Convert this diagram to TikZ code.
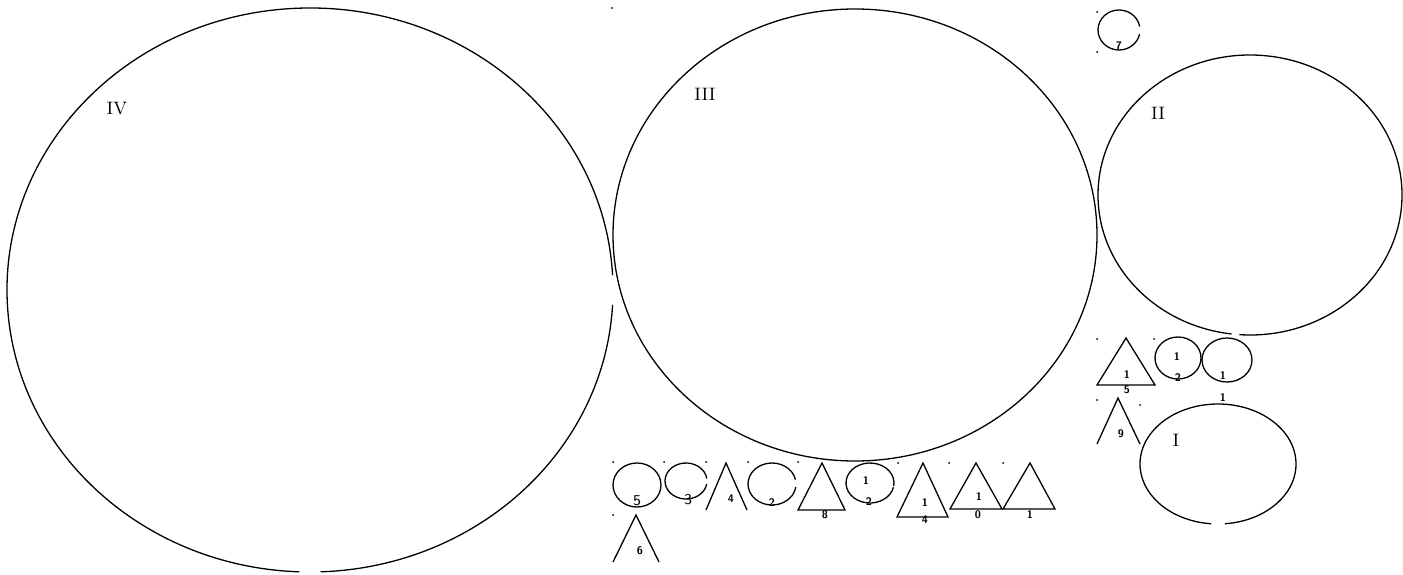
\documentclass[tikz,border=0pt]{standalone}
\usepackage{tikz}
\usetikzlibrary{positioning}

\begin{document}
\begin{tikzpicture}[
    x=0.5pt,
    y=0.5pt,
    outline/.style={line width=0.65pt},
    roman/.style={font=\small, inner sep=0pt},
    digit/.style={font=\fontsize{5.5}{5.5}\selectfont\sffamily\bfseries, inner sep=0pt},
    bigdigit/.style={font=\fontsize{7.5}{7.5}\selectfont\sffamily, inner sep=0pt}
]
\useasboundingbox (0,0) rectangle (1403,574);
% Big circles
\draw[outline] (310,284) ++(3:303 and 282) arc[start angle=3, end angle=268, x radius=303, y radius=282];
\draw[outline] (310,284) ++(272:303 and 282) arc[start angle=272, end angle=357, x radius=303, y radius=282];
\draw[outline] (855,339) ellipse[x radius=242, y radius=226];
\draw[outline] (1250,379) ++(266:152 and 140) arc[start angle=266, end angle=623, x radius=152, y radius=140];
\draw[outline] (1218,110) ++(275:78 and 60) arc[start angle=275, end angle=625, x radius=78, y radius=60];
\node[roman] (lblIV) at (117,465) {IV};
\node[roman] (lblIII) at (705,480) {III};
\node[roman] (lblII) at (1158,461) {II};
\node[roman] (lblI) at (1176,134) {I};
% Small circles
\draw[outline] (637,89) ellipse[x radius=24, y radius=22];
\draw[outline] (686,93) ++(8:21 and 18) arc[start angle=8, end angle=350, x radius=21, y radius=18];
\draw[outline] (772,90) ++(12:24 and 21) arc[start angle=12, end angle=352, x radius=24, y radius=21];
\draw[outline] (870,91) ++(-8:24 and 20) arc[start angle=-8, end angle=348, x radius=24, y radius=20];
\draw[outline] (1119,544) ++(10:21 and 20) arc[start angle=10, end angle=348, x radius=21, y radius=20];
\draw[outline] (1178,216) ellipse[x radius=23, y radius=21];
\draw[outline] (1227,214) ellipse[x radius=25, y radius=22];
\node[bigdigit] (c5) at (637,73) {5};
\node[bigdigit] (c3) at (688,74) {3};
\node[digit] (c2) at (772,71) {2};
\node[digit] (c12a) at (866,93) {1};
\node[digit] (c12b) at (869,72) {2};
\node[digit] (c7) at (1119,528) {7};
\node[digit] (d12a) at (1177,217) {1};
\node[digit] (d12b) at (1178,196) {2};
\node[digit] (c11a) at (1223,198) {1};
\node[digit] (c11b) at (1223,176) {1};
% Triangles
\draw[outline] (706,64) -- (726,111) -- (747,64);
\draw[outline] (798,64) -- (822,111) -- (845,64) -- cycle;
\draw[outline] (897,57) -- (923,111) -- (948,57) -- cycle;
\draw[outline] (950,65) -- (976,111) -- (1002,65) -- cycle;
\draw[outline] (1003,65) -- (1030,111) -- (1055,65) -- cycle;
\draw[outline] (613,12) -- (636,59) -- (659,12);
\draw[outline] (1097,189) -- (1126,236) -- (1155,189) -- cycle;
\draw[outline] (1097,130) -- (1118,176) -- (1140,130);
\node[digit] (t4) at (731,75) {4};
\node[digit] (t8) at (825,59) {8};
\node[digit] (t14a) at (925,71) {1};
\node[digit] (t14b) at (925,54) {4};
\node[digit] (t10a) at (979,77) {1};
\node[digit] (t10b) at (978,59) {0};
\node[digit] (t1) at (1030,59) {1};
\node[digit] (t6) at (640,23) {6};
\node[digit] (t15a) at (1127,199) {1};
\node[digit] (t15b) at (1127,184) {5};
\node[digit] (t9) at (1121,140) {9};
% Corner marks
\foreach \p in {(613,112),(613,59),(664,112),(706,112),(748,112),(798,112),(898,111),(949,111),(1003,111),(612,566),(1097,562),(1097,522),(1097,235),(1154,235),(1097,174),(1140,169)} {
    \fill \p circle (1);
}
\end{tikzpicture}
\end{document}
